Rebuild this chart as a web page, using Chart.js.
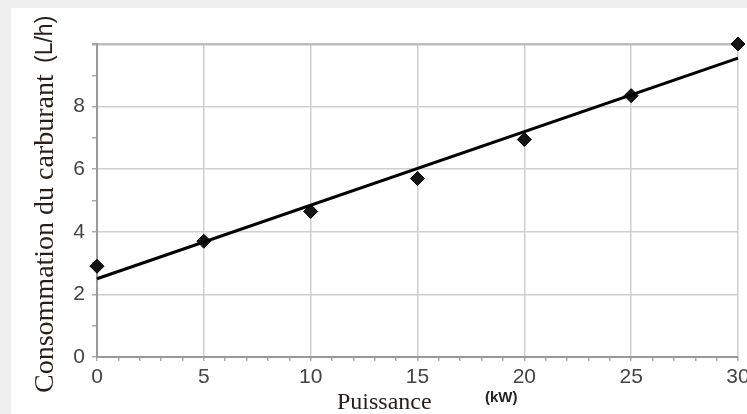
<!DOCTYPE html>
<html>
<head>
<meta charset="utf-8">
<script src="https://cdn.jsdelivr.net/npm/chart.js@4"></script>
<style>
  html, body { margin: 0; padding: 0; background: #efefef; }
  #sheet { position: absolute; left: 11px; top: 8px; right: 0; bottom: 0; background: #fff; }
  #wrap { position: absolute; left: 0; top: 0; width: 747px; height: 414px; }
</style>
</head>
<body>
<div id="sheet"></div>
<div id="wrap"><canvas id="chart"></canvas></div>
<script>
// measured fuel use (L/h) against power (kW)
var puissance = [0, 5, 10, 15, 20, 25, 30];
var consommation = [2.9, 3.7, 4.65, 5.7, 6.95, 8.35, 10.0];

// fitted straight line, end points
var droiteX = [0, 30];
var droiteY = [2.5, 9.55];

var yTitle = 'Consommation du carburant';
var yUnit = '(L/h)';
var xTitle = 'Puissance';
var xUnit = '(kW)';

function toPoints(xs, ys) {
    return xs.map(function (x, i) { return { x: x, y: ys[i] }; });
}

// axis titles drawn by hand so the unit can use its own font
var axisTitles = {
    id: 'axisTitles',
    afterDraw: function (chart) {
        var ctx = chart.ctx;
        var area = chart.chartArea;
        ctx.save();
        ctx.fillStyle = '#2a1f16';
        ctx.textBaseline = 'middle';

        ctx.save();
        ctx.translate(area.left - 51, 393);
        ctx.rotate(-Math.PI / 2);
        ctx.textAlign = 'left';
        ctx.font = '28px "Liberation Serif"';
        ctx.fillText(yTitle, 0, 0);
        ctx.font = '23px "Liberation Sans"';
        ctx.fillText(yUnit, 330, 0);
        ctx.restore();

        ctx.textAlign = 'left';
        ctx.font = '24px "Liberation Serif"';
        ctx.fillText(xTitle, 337, 403);
        ctx.fillStyle = '#222';
        ctx.font = 'bold 15px "Liberation Sans"';
        ctx.fillText(xUnit, 485, 398);
        ctx.restore();
    }
};

document.addEventListener('DOMContentLoaded', function () {
    var ctx = document.getElementById('chart').getContext('2d');
    new Chart(ctx, {
        type: 'scatter',
        data: {
            datasets: [
                {
                    type: 'line',
                    data: toPoints(droiteX, droiteY),
                    borderColor: '#000',
                    borderWidth: 3,
                    pointRadius: 0,
                    clip: false
                },
                {
                    data: toPoints(puissance, consommation),
                    pointStyle: 'rectRot',
                    pointRadius: 7,
                    backgroundColor: '#151515',
                    borderColor: '#000',
                    borderWidth: 1,
                    clip: false
                }
            ]
        },
        options: {
            responsive: true,
            maintainAspectRatio: false,
            animation: false,
            layout: { padding: { left: 0, top: 44, right: 9, bottom: 0 } },
            plugins: {
                legend: { display: false },
                tooltip: { enabled: false }
            },
            scales: {
                x: {
                    type: 'linear',
                    min: 0,
                    max: 30,
                    ticks: {
                        stepSize: 1,
                        autoSkip: false,
                        maxRotation: 0,
                        padding: 4,
                        color: '#444',
                        font: { family: 'Liberation Sans', size: 21 },
                        callback: function (v) { return v % 5 === 0 ? v : ''; }
                    },
                    grid: {
                        color: function (c) { return c.tick && c.tick.value % 5 === 0 ? '#cfcfcf' : 'rgba(0,0,0,0)'; },
                        lineWidth: 1.5,
                        tickColor: '#aaa',
                        tickLength: 4
                    },
                    border: { color: '#999', width: 2 },
                    afterFit: function (scale) {
                        scale.height = 57;
                        scale.paddingLeft = 0;
                        scale.paddingRight = 0;
                    }
                },
                y: {
                    min: 0,
                    max: 10,
                    ticks: {
                        stepSize: 1,
                        autoSkip: false,
                        padding: 7,
                        color: '#444',
                        font: { family: 'Liberation Sans', size: 21 },
                        callback: function (v) { return (v % 2 === 0 && v < 10) ? v : ''; }
                    },
                    grid: {
                        color: function (c) {
                            if (!c.tick) return 'rgba(0,0,0,0)';
                            if (c.tick.value === 10) return '#bdbdbd';
                            return c.tick.value % 2 === 0 ? '#cfcfcf' : 'rgba(0,0,0,0)';
                        },
                        lineWidth: function (c) { return c.tick && c.tick.value === 10 ? 2.5 : 1.5; },
                        tickColor: '#aaa',
                        tickLength: 5
                    },
                    border: { color: '#999', width: 2 },
                    afterFit: function (scale) {
                        scale.width = 97;
                        scale.paddingTop = 0;
                        scale.paddingBottom = 0;
                    }
                }
            }
        },
        plugins: [axisTitles]
    });
});
</script>
</body>
</html>
